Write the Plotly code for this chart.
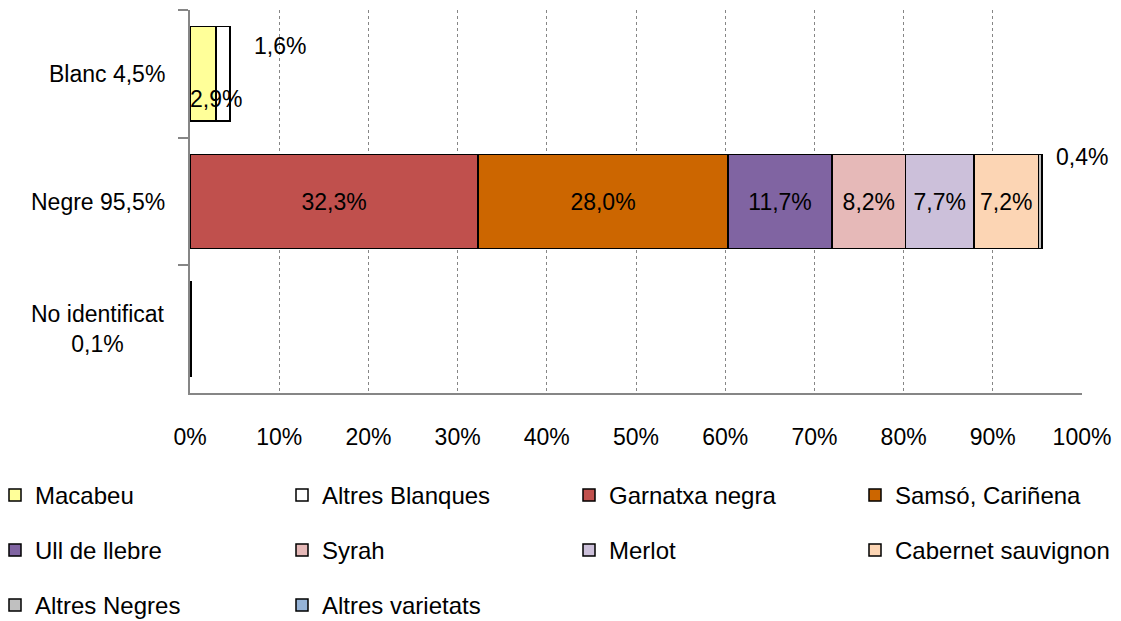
import plotly.graph_objects as go

categories = ["Blanc 4,5%", "Negre 95,5%", "No identificat<br>0,1%"]
series_names = ["Macabeu", "Altres Blanques", "Garnatxa negra", "Samsó, Cariñena",
                "Ull de llebre", "Syrah", "Merlot", "Cabernet sauvignon",
                "Altres Negres", "Altres varietats"]
macabeu = [2.9, None, None]
altres_blanques = [1.6, None, None]
garnatxa = [None, 32.3, None]
samso = [None, 28.0, None]
ull_llebre = [None, 11.7, None]
syrah = [None, 8.2, None]
merlot = [None, 7.7, None]
cabernet = [None, 7.2, None]
altres_negres = [None, 0.4, None]
altres_varietats = [None, None, 0.1]
x_ticks = [0, 10, 20, 30, 40, 50, 60, 70, 80, 90, 100]

values = [macabeu, altres_blanques, garnatxa, samso, ull_llebre, syrah, merlot,
          cabernet, altres_negres, altres_varietats]
colors = ["#FFFF99", "#FFFFFF", "#C0504D", "#CC6600", "#8064A2", "#E6B9B8",
          "#CCC0DA", "#FCD5B4", "#C0C0C0", "#95B3D7"]
inside_label = [False, False, True, True, True, True, True, True, False, False]

FS = 23
LFS = 24
FONT = "Liberation Sans, Arial, sans-serif"

def fmt(v):
    return f"{v:.1f}".replace(".", ",") + "%"

# the page body adds an 8px offset; figure coordinates = window coordinates - 8
OFF = 8
W, H = 1121 - OFF, 621 - OFF
ML, MT = 190 - OFF, 10 - OFF
MR = W - (1082 - OFF)
MB = H - (393 - OFF)
plot_w = W - ML - MR
plot_h = H - MT - MB

def px_to_paper_x(px):
    return (px - OFF - ML) / plot_w

def px_to_paper_y(py):
    return (H - MB - (py - OFF)) / plot_h

legend_keys = ["legend"] + [f"legend{i}" for i in range(2, 11)]
col_px = [-5, 282, 569, 855]
row_px = [473, 528, 583]

fig = go.Figure()
for i, (name, vals, col, lab) in enumerate(zip(series_names, values, colors, inside_label)):
    fig.add_trace(go.Bar(
        y=categories, x=vals, name=name, orientation="h",
        marker=dict(color=col, line=dict(color="black", width=1.5)),
        text=[fmt(v) if (v is not None and lab) else "" for v in vals],
        textposition="inside", insidetextanchor="middle", constraintext="none",
        textfont=dict(color="black", size=FS, family=FONT),
        width=0.74, legend=legend_keys[i],
    ))

legends = {}
for i, key in enumerate(legend_keys):
    legends[key] = dict(
        orientation="v", xref="paper", yref="paper", xanchor="left", yanchor="top",
        x=px_to_paper_x(col_px[i % 4]), y=px_to_paper_y(row_px[i // 4]),
        font=dict(size=LFS, family=FONT, color="black"),
        bgcolor="rgba(0,0,0,0)", itemwidth=30,
    )

# labels for the small segments
fig.add_annotation(x=macabeu[0], y=categories[0], text=fmt(macabeu[0]), showarrow=False,
                   yshift=-25, font=dict(size=FS, color="black", family=FONT))
fig.add_annotation(x=macabeu[0] + altres_blanques[0], y=categories[0], text=fmt(altres_blanques[0]),
                   showarrow=False, yshift=28, xshift=50, font=dict(size=FS, color="black", family=FONT))
negre_total = sum(v[1] for v in values if v[1] is not None)
fig.add_annotation(x=negre_total, y=categories[1], text=fmt(altres_negres[1]),
                   showarrow=False, yshift=45, xshift=40, font=dict(size=FS, color="black", family=FONT))

# category labels (centre-aligned lines, like the original)
for c in categories:
    fig.add_annotation(x=0, xref="paper", y=c, yref="y", text=c, showarrow=False,
                       xanchor="right", align="center", xshift=-23,
                       font=dict(size=FS, color="black", family=FONT))

fig.update_layout(
    barmode="stack", width=W, height=H,
    margin=dict(l=ML, r=MR, t=MT, b=MB, autoexpand=False),
    plot_bgcolor="white", paper_bgcolor="white",
    font=dict(family=FONT, size=FS, color="black"),
    showlegend=True,
    **legends,
    xaxis=dict(range=[0, 100], tickvals=x_ticks, ticktext=[f"{t}%" for t in x_ticks],
               showgrid=True, gridcolor="#868686", griddash="dot", gridwidth=1,
               showline=True, linecolor="#868686", linewidth=2, zeroline=False,
               ticks="", ticklabelstandoff=22, tickfont=dict(size=FS)),
    yaxis=dict(autorange="reversed", showline=True, linecolor="#868686", linewidth=2,
               ticks="outside", ticklen=10, tickcolor="#868686", tickwidth=2,
               tickson="boundaries", showgrid=False, showticklabels=False),
)

fig.write_html("out.html")
